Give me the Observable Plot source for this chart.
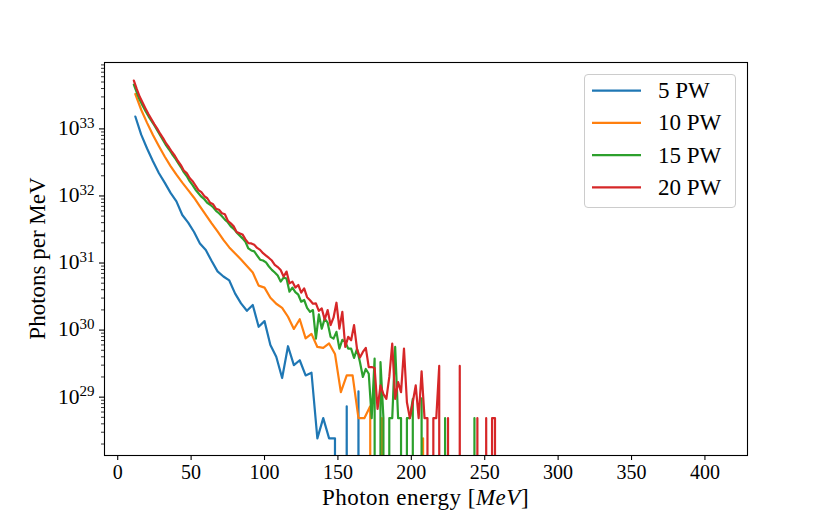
<!DOCTYPE html>
<html>
<head>
<meta charset="utf-8">
<script src="https://cdn.jsdelivr.net/npm/d3@7"></script>
<script src="https://cdn.jsdelivr.net/npm/@observablehq/plot@0.6"></script>
<style>
  body { margin: 0; background: #fff; }
  #chart { width: 830px; height: 519px; }
</style>
</head>
<body>
<div id="chart"></div>
<script>
// ---- bin centres (MeV) ----
const binsCoarse = d3.range(12, 412, 4);   // 5 PW and 10 PW spectra
const binsFine = d3.range(11, 411, 2);     // 15 PW and 20 PW spectra

// ---- photons per MeV (0 = empty bin) ----
const pw5 = [1.53e33, 8.2e32, 5.1e32, 3.3e32, 2.2e32, 1.58e32, 1.11e32, 8.3e31, 5.2e31, 4.0e31,
  2.9e31, 1.96e31, 1.56e31, 1.07e31, 7.5e30, 6.3e30, 5.5e30, 3.5e30, 2.5e30, 1.94e30,
  2.37e30, 1.12e30, 1.36e30, 6.0e29, 4.0e29, 1.93e29, 5.75e29, 3.0e29, 3.55e29, 2.11e29,
  2.31e29, 2.43e28, 4.86e28, 2.43e28, 2.43e28, 0, 7.3e28, 0, 1.22e29, 0];

const pw10 = [3.31e33, 1.93e33, 1.23e33, 8.13e32, 5.56e32, 3.87e32, 2.79e32, 2.08e32, 1.58e32, 1.22e32,
  9.42e31, 7.02e31, 5.24e31, 3.91e31, 2.96e31, 2.21e31, 1.71e31, 1.39e31, 1.13e31, 9.02e30,
  7.21e30, 4.60e30, 4.30e30, 3.04e30, 2.47e30, 2.15e30, 1.58e30, 1.04e30, 1.45e30, 7.52e29,
  8.79e29, 5.61e29, 5.42e29, 6.32e29, 4.41e29, 1.19e29, 2.11e29, 2.11e29, 4.86e28, 4.86e28,
  7.29e28, 0, 4.86e28, 0, 0, 0, 0, 0, 0, 2.43e28, 0];

const pw15 = [4.56e33, 3.46e33, 2.72e33, 2.21e33, 1.83e33, 1.54e33, 1.32e33, 1.13e33, 9.50e32, 8.00e32,
  6.73e32, 5.66e32, 4.93e32, 4.22e32, 3.68e32, 3.15e32, 2.70e32, 2.27e32, 1.98e32, 1.66e32,
  1.45e32, 1.24e32, 1.10e32, 9.75e31, 8.94e31, 7.92e31, 7.40e31, 6.78e31, 6.01e31, 5.52e31,
  4.98e31, 4.44e31, 4.05e31, 3.52e31, 3.23e31, 2.86e31, 2.58e31, 2.33e31, 2.07e31, 1.65e31,
  1.54e31, 1.49e31, 1.29e31, 1.12e31, 1.09e31, 1.02e31, 8.87e30, 7.91e30, 7.21e30, 6.50e30,
  5.28e30, 6.07e30, 5.86e30, 3.74e30, 4.30e30, 3.68e30, 3.37e30, 2.65e30, 2.81e30, 2.15e30,
  1.87e30, 1.99e30, 7.46e29, 1.72e30, 1.05e30, 1.48e30, 1.29e30, 7.93e29, 7.46e29, 9.42e29,
  5.30e29, 7.14e29, 6.67e29, 5.30e29, 5.30e29, 3.84e29, 5.24e29, 3.34e29, 2.00e29, 2.63e29,
  2.23e29, 4.86e28, 3.75e29, 0, 3.34e29, 4.86e28, 0, 4.86e28, 4.86e28, 5.61e29,
  4.86e28, 4.86e28, 0, 4.86e28, 4.86e28, 9.44e28, 0, 0, 9.6e28, 0,
  0, 0, 0, 0, 0, 0, 4.86e28, 0, 0, 0,
  0, 0, 0, 0, 0, 0, 4.86e28, 0];

const pw20 = [5.24e33, 3.91e33, 3.01e33, 2.45e33, 2.00e33, 1.65e33, 1.39e33, 1.17e33, 1.00e33, 8.41e32,
  7.21e32, 6.07e32, 5.28e32, 4.52e32, 3.94e32, 3.32e32, 2.89e32, 2.39e32, 2.19e32, 1.85e32,
  1.66e32, 1.43e32, 1.22e32, 1.14e32, 9.91e31, 9.25e31, 7.92e31, 7.52e31, 6.44e31, 6.22e31,
  5.52e31, 5.33e31, 4.26e31, 3.91e31, 3.52e31, 2.91e31, 2.77e31, 2.67e31, 2.25e31, 1.98e31,
  1.96e31, 1.87e31, 1.68e31, 1.57e31, 1.40e31, 1.29e31, 1.19e31, 1.09e31, 9.40e30, 8.71e30,
  7.85e30, 6.28e30, 7.46e30, 4.98e30, 5.28e30, 4.30e30, 4.71e30, 3.61e30, 4.19e30, 3.10e30,
  2.79e30, 2.47e30, 2.50e30, 1.94e30, 2.10e30, 1.43e30, 1.99e30, 1.19e30, 1.53e30, 2.56e30,
  1.05e30, 1.87e30, 5.61e29, 7.93e29, 7.06e29, 1.19e30, 5.24e29, 3.9e29, 4.72e29, 5.42e29,
  2.81e29, 2.81e29, 2.72e29, 6.68e28, 1.50e29, 1.11e29, 9.44e28, 2.00e29, 6.30e29, 9.44e28,
  1.68e29, 1.19e29, 5.30e29, 8.41e28, 4.86e28, 8.41e28, 1.50e29, 4.86e28, 2.43e29, 4.86e28,
  4.86e28, 0, 4.86e28, 4.86e28, 2.92e29, 0, 0, 4.86e28, 0, 0,
  0, 2.92e29, 0, 0, 0, 0, 0, 4.86e28, 0, 0,
  4.86e28, 0, 4.86e28, 4.86e28, 0];

const seriesNames = ["5 PW", "10 PW", "15 PW", "20 PW"];
const seriesColors = ["#1f77b4", "#ff7f0e", "#2ca02c", "#d62728"];

// ---- axis ticks ----
const xTicks = [0, 50, 100, 150, 200, 250, 300, 350, 400];
const yMajorTicks = [1e29, 1e30, 1e31, 1e32, 1e33];
const yMinorTicks = [28, 29, 30, 31, 32, 33].flatMap(e => [2, 3, 4, 5, 6, 7, 8, 9].map(m => m * Math.pow(10, e)));

// log(0) is clipped far below the axis, as matplotlib does
const LOG_FLOOR = 1e-100;

const series = [
  {name: seriesNames[0], color: seriesColors[0], bins: binsCoarse, values: pw5},
  {name: seriesNames[1], color: seriesColors[1], bins: binsCoarse, values: pw10},
  {name: seriesNames[2], color: seriesColors[2], bins: binsFine, values: pw15},
  {name: seriesNames[3], color: seriesColors[3], bins: binsFine, values: pw20}
];
const tables = series.map(s => s.values.map((v, i) => ({series: s.name, E: s.bins[i], v: v > 0 ? v : LOG_FLOOR})));

const svg = Plot.plot({
  width: 830,
  height: 519,
  marginLeft: 104,
  marginRight: 83,
  marginTop: 62,
  marginBottom: 64,
  style: {fontFamily: "'Liberation Serif', serif", fontSize: "20px", color: "black", background: "white"},
  x: {domain: [-9, 429]},
  y: {type: "log", domain: [Math.pow(10, 28.13), Math.pow(10, 33.99)]},
  marks: [
    ...series.map((s, i) => Plot.line(tables[i], {x: "E", y: "v", stroke: s.color, strokeWidth: 2.2, clip: true, strokeLinejoin: "round"})),
    Plot.frame({stroke: "black", strokeWidth: 1.1}),
    Plot.axisX({ticks: xTicks, tickSize: 5, tickPadding: 4, label: null, strokeWidth: 1.1}),
    Plot.axisY({ticks: yMinorTicks, tickSize: 3, tickFormat: () => "", label: null, strokeWidth: 0.8}),
    Plot.axisY({ticks: yMajorTicks, tickSize: 5, tickPadding: 5, label: null, strokeWidth: 1.1,
      tickFormat: d => String(Math.round(Math.log10(d)))})
  ]
});

const root = d3.select(svg);

// y tick labels as 10^n
root.selectAll('g[aria-label="y-axis tick label"] text').each(function() {
  const t = d3.select(this);
  const e = t.text();
  if (!e) return;
  t.text("");
  t.append("tspan").style("font-size", "21.5px").text("10");
  t.append("tspan").attr("dy", "-0.5em").style("font-size", "15px").text(e);
});

// axis titles
const xl = root.append("text")
  .attr("x", 425.5).attr("y", 505)
  .attr("text-anchor", "middle")
  .style("font-size", "23px")
  .style("letter-spacing", "0.5px");
xl.append("tspan").text("Photon energy [");
xl.append("tspan").style("font-style", "italic").text("MeV");
xl.append("tspan").text("]");

root.append("text")
  .attr("transform", "translate(45,258.5) rotate(-90)")
  .attr("text-anchor", "middle")
  .style("font-size", "23px")
  .text("Photons per MeV");

// legend
const lg = root.append("g").attr("aria-label", "legend");
lg.append("rect")
  .attr("x", 584.5).attr("y", 74.5).attr("width", 151).attr("height", 133)
  .attr("rx", 3.5)
  .attr("fill", "white").attr("fill-opacity", 0.8)
  .attr("stroke", "#cccccc").attr("stroke-width", 1);
series.forEach((s, i) => {
  const y = 90.7 + 32.2 * i;
  lg.append("line").attr("x1", 592).attr("x2", 641).attr("y1", y).attr("y2", y)
    .attr("stroke", s.color).attr("stroke-width", 2.2);
  lg.append("text").attr("x", 658).attr("y", y + 7.5)
    .attr("text-anchor", "start")
    .style("font-size", "23px").text(s.name);
});

document.getElementById("chart").appendChild(svg);
</script>
</body>
</html>
